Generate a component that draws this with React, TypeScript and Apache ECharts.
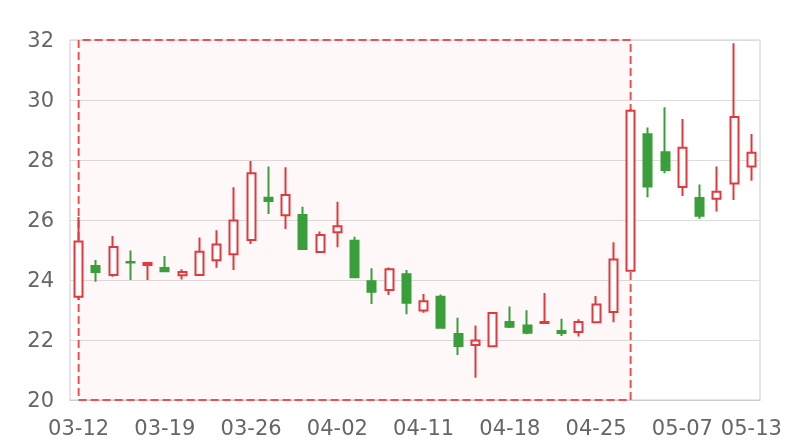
import React, { useEffect, useRef } from "react";
import * as echarts from "echarts";

const dates = [
  "03-12", "03-13", "03-14", "03-15", "03-16", "03-19", "03-20", "03-21", "03-22", "03-23",
  "03-26", "03-27", "03-28", "03-29", "03-30", "04-02", "04-03", "04-04", "04-09", "04-10",
  "04-11", "04-12", "04-13", "04-16", "04-17", "04-18", "04-19", "04-20", "04-23", "04-24",
  "04-25", "04-26", "04-27", "05-02", "05-03", "05-07", "05-08", "05-09", "05-10", "05-13",
];

// [open, close, low, high]
const ohlc: number[][] = [
  [23.44, 25.28, 23.33, 26.1],
  [24.47, 24.27, 23.94, 24.67],
  [24.17, 25.1, 24.11, 25.47],
  [24.6, 24.58, 24.0, 24.98],
  [24.5, 24.57, 24.0, 24.58],
  [24.4, 24.29, 24.26, 24.8],
  [24.16, 24.27, 24.02, 24.36],
  [24.17, 24.94, 24.17, 25.42],
  [24.66, 25.18, 24.41, 25.66],
  [24.86, 25.98, 24.33, 27.09],
  [25.33, 27.56, 25.2, 27.97],
  [26.74, 26.63, 26.2, 27.78],
  [26.16, 26.83, 25.7, 27.76],
  [26.17, 25.03, 25.03, 26.44],
  [24.93, 25.5, 24.93, 25.62],
  [25.59, 25.79, 25.09, 26.61],
  [25.31, 24.09, 24.09, 25.44],
  [23.96, 23.61, 23.2, 24.39],
  [23.67, 24.36, 23.5, 24.42],
  [24.19, 23.24, 22.86, 24.33],
  [22.98, 23.29, 22.91, 23.53],
  [23.44, 22.41, 22.41, 23.52],
  [22.2, 21.8, 21.5, 22.74],
  [21.83, 21.98, 20.74, 22.48],
  [21.79, 22.9, 21.79, 22.9],
  [22.6, 22.44, 22.4, 23.12],
  [22.48, 22.24, 22.19, 22.99],
  [22.57, 22.6, 22.57, 23.57],
  [22.3, 22.23, 22.13, 22.71],
  [22.27, 22.6, 22.12, 22.69],
  [22.59, 23.18, 22.59, 23.47],
  [22.93, 24.68, 22.59, 25.26],
  [24.31, 29.64, 24.31, 29.7],
  [28.86, 27.12, 26.76, 29.08],
  [28.26, 27.67, 27.56, 29.76],
  [27.1, 28.41, 26.8, 29.37],
  [26.73, 26.14, 26.04, 27.18],
  [26.71, 26.94, 26.28, 27.78],
  [27.22, 29.43, 26.67, 31.89],
  [27.78, 28.24, 27.31, 28.87],
];

const markStart = "03-12";
const markEnd = "04-27";

export default function App() {
  const ref = useRef<HTMLDivElement>(null);
  useEffect(() => {
    const chart = echarts.init(ref.current!, undefined, { renderer: "svg" });
    chart.setOption({
      animation: false,
      grid: {
        left: 70,
        right: 40,
        top: 40,
        bottom: 40,
        show: true,
        borderColor: "#ccc",
        borderWidth: 1,
      },
      xAxis: {
        type: "category",
        data: dates,
        boundaryGap: true,
        axisLine: { lineStyle: { color: "#ccc" } },
        axisTick: { show: false },
        axisLabel: {
          interval: (i: number) => i % 5 === 0 || i === dates.length - 1,
          color: "#666",
          fontSize: 21,
          fontFamily: "DejaVu Sans",
          margin: 17,
        },
        splitLine: { show: false },
      },
      yAxis: {
        type: "value",
        min: 20,
        max: 32,
        interval: 2,
        axisLine: { show: false },
        axisTick: { show: false },
        axisLabel: {
          color: "#666",
          fontSize: 21,
          fontFamily: "DejaVu Sans",
          margin: 16,
        },
        splitLine: { lineStyle: { color: "#ddd" } },
      },
      series: [
        {
          type: "candlestick",
          data: ohlc,
          itemStyle: {
            color: "#ffffff",
            color0: "#3a9e3a",
            borderColor: "#e2393e",
            borderColor0: "#3a9e3a",
            borderWidth: 2,
          },
          markArea: {
            silent: true,
            itemStyle: {
              color: "rgba(255, 80, 80, 0.04)",
              borderColor: "#f05050",
              borderWidth: 2,
              borderType: "dashed",
            },
            label: { show: false },
            data: [[{ xAxis: markStart }, { xAxis: markEnd }]],
          },
        },
      ],
    });
    return () => chart.dispose();
  }, []);
  return (
    <div
      ref={ref}
      style={{ position: "fixed", left: 0, top: 0, width: 800, height: 440 }}
    />
  );
}
